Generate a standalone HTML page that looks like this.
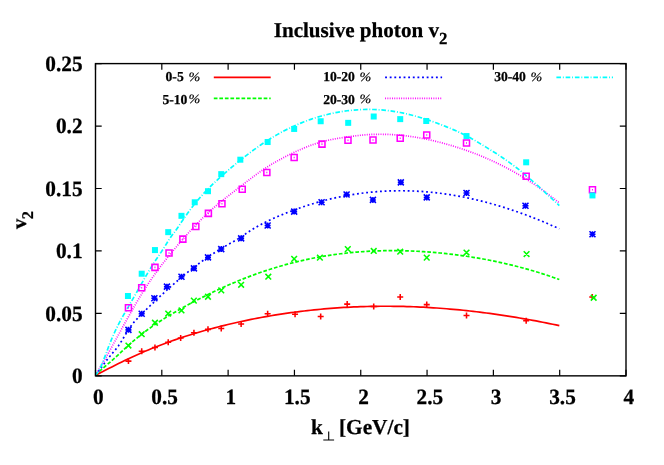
<!DOCTYPE html>
<html><head><meta charset="utf-8"><title>Inclusive photon v2</title>
<style>html,body{margin:0;padding:0;background:#fff;}body{width:664px;height:465px;position:relative;overflow:hidden;font-family:"Liberation Serif",serif;}</style></head>
<body>
<svg width="664" height="465" viewBox="0 0 664 465" style="position:absolute;left:0;top:0;will-change:transform">
<rect width="664" height="465" fill="#fff"/>
<clipPath id="pc"><rect x="95.5" y="63.6" width="530.50" height="312.25"/></clipPath><g clip-path="url(#pc)">
<path d="M95.3 375.3 L98.61 373.63 L101.93 371.94 L105.24 370.26 L108.56 368.57 L111.87 366.89 L115.19 365.22 L118.5 363.57 L121.81 361.93 L125.13 360.32 L128.44 358.74 L131.76 357.19 L135.07 355.68 L138.39 354.2 L141.7 352.75 L145.02 351.33 L148.33 349.94 L151.64 348.58 L154.96 347.25 L158.27 345.95 L161.59 344.68 L164.9 343.43 L168.22 342.22 L171.53 341.03 L174.85 339.87 L178.16 338.74 L181.47 337.63 L184.79 336.54 L188.1 335.48 L191.42 334.45 L194.73 333.44 L198.05 332.45 L201.36 331.49 L204.67 330.54 L207.99 329.62 L211.3 328.72 L214.62 327.85 L217.93 326.99 L221.25 326.15 L224.56 325.33 L227.88 324.53 L231.19 323.75 L234.5 322.98 L237.82 322.24 L241.13 321.51 L244.45 320.8 L247.76 320.11 L251.08 319.43 L254.39 318.77 L257.7 318.13 L261.02 317.51 L264.33 316.91 L267.65 316.32 L270.96 315.75 L274.28 315.2 L277.59 314.66 L280.91 314.14 L284.22 313.64 L287.53 313.16 L290.85 312.69 L294.16 312.24 L297.48 311.81 L300.79 311.39 L304.11 310.99 L307.42 310.61 L310.73 310.24 L314.05 309.89 L317.36 309.55 L320.68 309.24 L323.99 308.94 L327.31 308.65 L330.62 308.38 L333.94 308.13 L337.25 307.89 L340.56 307.67 L343.88 307.47 L347.19 307.28 L350.51 307.11 L353.82 306.95 L357.14 306.81 L360.45 306.69 L363.76 306.58 L367.08 306.48 L370.39 306.41 L373.71 306.34 L377.02 306.3 L380.34 306.26 L383.65 306.25 L386.97 306.25 L390.28 306.26 L393.59 306.29 L396.91 306.33 L400.22 306.39 L403.54 306.46 L406.85 306.55 L410.17 306.66 L413.48 306.77 L416.79 306.91 L420.11 307.05 L423.42 307.22 L426.74 307.39 L430.05 307.58 L433.37 307.79 L436.68 308.01 L440 308.24 L443.31 308.49 L446.62 308.75 L449.94 309.03 L453.25 309.32 L456.57 309.62 L459.88 309.94 L463.2 310.27 L466.51 310.62 L469.82 310.98 L473.14 311.35 L476.45 311.74 L479.77 312.14 L483.08 312.55 L486.4 312.98 L489.71 313.42 L493.03 313.88 L496.34 314.34 L499.65 314.82 L502.97 315.32 L506.28 315.82 L509.6 316.34 L512.91 316.88 L516.23 317.42 L519.54 317.98 L522.85 318.55 L526.17 319.14 L529.48 319.73 L532.8 320.34 L536.11 320.96 L539.43 321.6 L542.74 322.24 L546.06 322.9 L549.37 323.57 L552.68 324.26 L556 324.95 L559.31 325.66" fill="none" stroke="#ff0000" stroke-width="1.7"/>
<path d="M95.3 375.3 L98.61 372.11 L101.93 369.11 L105.24 366.24 L108.56 363.42 L111.87 360.58 L115.19 357.64 L118.5 354.6 L121.81 351.48 L125.13 348.37 L128.44 345.32 L131.76 342.38 L135.07 339.55 L138.39 336.83 L141.7 334.2 L145.02 331.67 L148.33 329.23 L151.64 326.87 L154.96 324.58 L158.27 322.37 L161.59 320.23 L164.9 318.14 L168.22 316.11 L171.53 314.13 L174.85 312.19 L178.16 310.29 L181.47 308.43 L184.79 306.59 L188.1 304.78 L191.42 303 L194.73 301.24 L198.05 299.52 L201.36 297.82 L204.67 296.15 L207.99 294.51 L211.3 292.9 L214.62 291.32 L217.93 289.77 L221.25 288.24 L224.56 286.75 L227.88 285.29 L231.19 283.85 L234.5 282.45 L237.82 281.07 L241.13 279.73 L244.45 278.41 L247.76 277.13 L251.08 275.88 L254.39 274.65 L257.7 273.46 L261.02 272.3 L264.33 271.17 L267.65 270.07 L270.96 269 L274.28 267.97 L277.59 266.96 L280.91 265.99 L284.22 265.04 L287.53 264.13 L290.85 263.26 L294.16 262.41 L297.48 261.59 L300.79 260.81 L304.11 260.06 L307.42 259.34 L310.73 258.65 L314.05 257.99 L317.36 257.36 L320.68 256.76 L323.99 256.19 L327.31 255.65 L330.62 255.13 L333.94 254.65 L337.25 254.2 L340.56 253.77 L343.88 253.37 L347.19 253 L350.51 252.66 L353.82 252.35 L357.14 252.06 L360.45 251.8 L363.76 251.57 L367.08 251.36 L370.39 251.18 L373.71 251.03 L377.02 250.9 L380.34 250.79 L383.65 250.72 L386.97 250.66 L390.28 250.64 L393.59 250.63 L396.91 250.65 L400.22 250.7 L403.54 250.77 L406.85 250.86 L410.17 250.97 L413.48 251.11 L416.79 251.27 L420.11 251.46 L423.42 251.66 L426.74 251.89 L430.05 252.14 L433.37 252.41 L436.68 252.71 L440 253.02 L443.31 253.35 L446.62 253.71 L449.94 254.09 L453.25 254.48 L456.57 254.9 L459.88 255.34 L463.2 255.79 L466.51 256.27 L469.82 256.77 L473.14 257.3 L476.45 257.84 L479.77 258.41 L483.08 259 L486.4 259.61 L489.71 260.25 L493.03 260.91 L496.34 261.6 L499.65 262.3 L502.97 263.04 L506.28 263.8 L509.6 264.58 L512.91 265.39 L516.23 266.22 L519.54 267.08 L522.85 267.97 L526.17 268.88 L529.48 269.82 L532.8 270.79 L536.11 271.78 L539.43 272.81 L542.74 273.86 L546.06 274.94 L549.37 276.04 L552.68 277.18 L556 278.35 L559.31 279.54" fill="none" stroke="#00ff00" stroke-width="1.7" stroke-dasharray="3.69 1.85"/>
<path d="M95.3 375.3 L98.61 371.08 L101.93 366.63 L105.24 362.17 L108.56 357.89 L111.87 353.92 L115.19 349.97 L118.5 345.68 L121.81 340.71 L125.13 335.13 L128.44 329.65 L131.76 324.95 L135.07 320.95 L138.39 317.4 L141.7 314.06 L145.02 310.78 L148.33 307.53 L151.64 304.31 L154.96 301.14 L158.27 298 L161.59 294.91 L164.9 291.86 L168.22 288.85 L171.53 285.89 L174.85 282.99 L178.16 280.13 L181.47 277.33 L184.79 274.58 L188.1 271.89 L191.42 269.26 L194.73 266.7 L198.05 264.19 L201.36 261.75 L204.67 259.38 L207.99 257.07 L211.3 254.84 L214.62 252.68 L217.93 250.59 L221.25 248.58 L224.56 246.64 L227.88 244.73 L231.19 242.83 L234.5 240.9 L237.82 238.91 L241.13 236.82 L244.45 234.63 L247.76 232.41 L251.08 230.27 L254.39 228.24 L257.7 226.32 L261.02 224.5 L264.33 222.76 L267.65 221.11 L270.96 219.53 L274.28 218.02 L277.59 216.57 L280.91 215.16 L284.22 213.8 L287.53 212.48 L290.85 211.2 L294.16 209.96 L297.48 208.76 L300.79 207.6 L304.11 206.48 L307.42 205.39 L310.73 204.35 L314.05 203.35 L317.36 202.39 L320.68 201.47 L323.99 200.58 L327.31 199.74 L330.62 198.93 L333.94 198.16 L337.25 197.44 L340.56 196.75 L343.88 196.09 L347.19 195.48 L350.51 194.9 L353.82 194.37 L357.14 193.87 L360.45 193.4 L363.76 192.98 L367.08 192.59 L370.39 192.24 L373.71 191.93 L377.02 191.65 L380.34 191.41 L383.65 191.21 L386.97 191.05 L390.28 190.92 L393.59 190.82 L396.91 190.77 L400.22 190.74 L403.54 190.76 L406.85 190.81 L410.17 190.9 L413.48 191.02 L416.79 191.18 L420.11 191.37 L423.42 191.6 L426.74 191.86 L430.05 192.16 L433.37 192.49 L436.68 192.85 L440 193.25 L443.31 193.69 L446.62 194.16 L449.94 194.66 L453.25 195.19 L456.57 195.76 L459.88 196.36 L463.2 197 L466.51 197.67 L469.82 198.37 L473.14 199.1 L476.45 199.86 L479.77 200.66 L483.08 201.49 L486.4 202.34 L489.71 203.24 L493.03 204.16 L496.34 205.11 L499.65 206.09 L502.97 207.11 L506.28 208.15 L509.6 209.22 L512.91 210.33 L516.23 211.46 L519.54 212.63 L522.85 213.82 L526.17 215.04 L529.48 216.29 L532.8 217.57 L536.11 218.88 L539.43 220.21 L542.74 221.58 L546.06 222.97 L549.37 224.39 L552.68 225.84 L556 227.32 L559.31 228.82" fill="none" stroke="#0000ff" stroke-width="1.7" stroke-dasharray="1.85 2.77"/>
<path d="M95.3 375.3 L98.61 369.88 L101.93 364.3 L105.24 358.56 L108.56 352.71 L111.87 346.77 L115.19 340.77 L118.5 334.74 L121.81 328.7 L125.13 322.69 L128.44 316.72 L131.76 310.84 L135.07 305.06 L138.39 299.41 L141.7 293.93 L145.02 288.64 L148.33 283.56 L151.64 278.68 L154.96 273.99 L158.27 269.46 L161.59 265.08 L164.9 260.82 L168.22 256.66 L171.53 252.59 L174.85 248.58 L178.16 244.65 L181.47 240.78 L184.79 236.99 L188.1 233.27 L191.42 229.64 L194.73 226.09 L198.05 222.64 L201.36 219.29 L204.67 216.05 L207.99 212.92 L211.3 209.91 L214.62 207.01 L217.93 204.2 L221.25 201.47 L224.56 198.81 L227.88 196.2 L231.19 193.63 L234.5 191.08 L237.82 188.54 L241.13 186.01 L244.45 183.45 L247.76 180.9 L251.08 178.36 L254.39 175.88 L257.7 173.46 L261.02 171.14 L264.33 168.91 L267.65 166.77 L270.96 164.72 L274.28 162.75 L277.59 160.86 L280.91 159.04 L284.22 157.29 L287.53 155.6 L290.85 153.96 L294.16 152.38 L297.48 150.85 L300.79 149.38 L304.11 147.97 L307.42 146.62 L310.73 145.36 L314.05 144.18 L317.36 143.09 L320.68 142.09 L323.99 141.21 L327.31 140.41 L330.62 139.71 L333.94 139.07 L337.25 138.49 L340.56 137.95 L343.88 137.44 L347.19 136.95 L350.51 136.49 L353.82 136.04 L357.14 135.64 L360.45 135.27 L363.76 134.96 L367.08 134.7 L370.39 134.51 L373.71 134.37 L377.02 134.29 L380.34 134.26 L383.65 134.29 L386.97 134.37 L390.28 134.51 L393.59 134.7 L396.91 134.94 L400.22 135.23 L403.54 135.57 L406.85 135.96 L410.17 136.4 L413.48 136.88 L416.79 137.42 L420.11 138 L423.42 138.62 L426.74 139.29 L430.05 140 L433.37 140.75 L436.68 141.54 L440 142.38 L443.31 143.25 L446.62 144.16 L449.94 145.11 L453.25 146.1 L456.57 147.13 L459.88 148.2 L463.2 149.3 L466.51 150.45 L469.82 151.64 L473.14 152.87 L476.45 154.15 L479.77 155.47 L483.08 156.84 L486.4 158.25 L489.71 159.71 L493.03 161.22 L496.34 162.78 L499.65 164.39 L502.97 166.05 L506.28 167.76 L509.6 169.52 L512.91 171.33 L516.23 173.2 L519.54 175.13 L522.85 177.11 L526.17 179.15 L529.48 181.24 L532.8 183.4 L536.11 185.61 L539.43 187.88 L542.74 190.22 L546.06 192.61 L549.37 195.07 L552.68 197.59 L556 200.18 L559.31 202.83" fill="none" stroke="#ff00ff" stroke-width="1.7" stroke-dasharray="0.92 1.38"/>
<path d="M95.3 375.3 L98.61 371.22 L101.93 364.18 L105.24 355.63 L108.56 346.82 L111.87 338.49 L115.19 331.02 L118.5 324.29 L121.81 318.1 L125.13 312.27 L128.44 306.6 L131.76 300.89 L135.07 295.08 L138.39 289.21 L141.7 283.35 L145.02 277.57 L148.33 271.93 L151.64 266.49 L154.96 261.32 L158.27 256.39 L161.59 251.48 L164.9 246.34 L168.22 240.89 L171.53 235.99 L174.85 231.67 L178.16 226.97 L181.47 222.07 L184.79 217.19 L188.1 212.49 L191.42 208.05 L194.73 203.84 L198.05 199.85 L201.36 196.06 L204.67 192.44 L207.99 188.99 L211.3 185.67 L214.62 182.47 L217.93 179.37 L221.25 176.36 L224.56 173.4 L227.88 170.51 L231.19 167.68 L234.5 164.9 L237.82 162.18 L241.13 159.52 L244.45 156.92 L247.76 154.37 L251.08 151.88 L254.39 149.44 L257.7 147.07 L261.02 144.76 L264.33 142.53 L267.65 140.37 L270.96 138.3 L274.28 136.3 L277.59 134.38 L280.91 132.55 L284.22 130.78 L287.53 129.1 L290.85 127.49 L294.16 125.95 L297.48 124.49 L300.79 123.1 L304.11 121.78 L307.42 120.53 L310.73 119.35 L314.05 118.24 L317.36 117.2 L320.68 116.22 L323.99 115.31 L327.31 114.47 L330.62 113.69 L333.94 112.97 L337.25 112.32 L340.56 111.74 L343.88 111.22 L347.19 110.77 L350.51 110.38 L353.82 110.06 L357.14 109.81 L360.45 109.62 L363.76 109.49 L367.08 109.44 L370.39 109.45 L373.71 109.52 L377.02 109.66 L380.34 109.87 L383.65 110.14 L386.97 110.48 L390.28 110.89 L393.59 111.36 L396.91 111.9 L400.22 112.51 L403.54 113.18 L406.85 113.92 L410.17 114.71 L413.48 115.57 L416.79 116.48 L420.11 117.45 L423.42 118.47 L426.74 119.54 L430.05 120.66 L433.37 121.83 L436.68 123.04 L440 124.28 L443.31 125.57 L446.62 126.89 L449.94 128.25 L453.25 129.65 L456.57 131.09 L459.88 132.6 L463.2 134.18 L466.51 135.84 L469.82 137.6 L473.14 139.47 L476.45 141.4 L479.77 143.38 L483.08 145.37 L486.4 147.39 L489.71 149.42 L493.03 151.48 L496.34 153.59 L499.65 155.74 L502.97 157.95 L506.28 160.22 L509.6 162.57 L512.91 164.99 L516.23 167.5 L519.54 170.1 L522.85 172.79 L526.17 175.56 L529.48 178.4 L532.8 181.3 L536.11 184.25 L539.43 187.24 L542.74 190.27 L546.06 193.31 L549.37 196.38 L552.68 199.44 L556 202.51 L559.31 205.56" fill="none" stroke="#00ffff" stroke-width="1.7" stroke-dasharray="4.62 1.85 0.92 1.85"/>
</g>
<path d="M125.44 361.11h6.0M128.44 358.11v6.0M138.7 351.15h6.0M141.7 348.15v6.0M151.96 347.42h6.0M154.96 344.42v6.0M165.22 342.19h6.0M168.22 339.19v6.0M177.67 337.96h6.0M180.67 334.96v6.0M190.93 332.73h6.0M193.93 329.73v6.0M204.99 329.37h6.0M207.99 326.37v6.0M218.25 328.5h6.0M221.25 325.5v6.0M238.13 324.01h6.0M241.13 321.01v6.0M264.65 313.81h6.0M267.65 310.81v6.0M292.06 314.3h6.0M295.06 311.3v6.0M317.68 316.42h6.0M320.68 313.42v6.0M344.19 304.1h6.0M347.19 301.1v6.0M370.71 306.59h6.0M373.71 303.59v6.0M397.22 297h6.0M400.22 294v6.0M423.74 304.6h6.0M426.74 301.6v6.0M463.51 315.55h6.0M466.51 312.55v6.0M523.17 320.65h6.0M526.17 317.65v6.0M589.26 297h6.0M592.26 294v6.0" fill="none" stroke="#ff0000" stroke-width="1.55"/>
<path d="M125.59 342.7l5.7 5.7M125.59 348.4l5.7 -5.7M138.85 331.37l5.7 5.7M138.85 337.07l5.7 -5.7M152.11 319.92l5.7 5.7M152.11 325.62l5.7 -5.7M165.37 310.71l5.7 5.7M165.37 316.41l5.7 -5.7M178.62 307.6l5.7 5.7M178.62 313.3l5.7 -5.7M190.98 297.76l5.7 5.7M190.98 303.46l5.7 -5.7M205.14 293.9l5.7 5.7M205.14 299.6l5.7 -5.7M218.4 287.55l5.7 5.7M218.4 293.25l5.7 -5.7M238.28 281.95l5.7 5.7M238.28 287.65l5.7 -5.7M265.45 273.86l5.7 5.7M265.45 279.56l5.7 -5.7M291.31 256.06l5.7 5.7M291.31 261.76l5.7 -5.7M317.03 254.82l5.7 5.7M317.03 260.52l5.7 -5.7M344.94 246.23l5.7 5.7M344.94 251.93l5.7 -5.7M370.86 248.09l5.7 5.7M370.86 253.79l5.7 -5.7M397.37 248.84l5.7 5.7M397.37 254.54l5.7 -5.7M423.89 254.82l5.7 5.7M423.89 260.52l5.7 -5.7M463.66 249.71l5.7 5.7M463.66 255.41l5.7 -5.7M523.72 251.21l5.7 5.7M523.72 256.91l5.7 -5.7M590.81 294.9l5.7 5.7M590.81 300.6l5.7 -5.7" fill="none" stroke="#00ff00" stroke-width="1.55"/>
<path d="M125.44 329.86h6.0M128.44 326.86v6.0M125.44 326.86l6.0 6.0M125.44 332.86l6.0 -6.0M138.7 313.81h6.0M141.7 310.81v6.0M138.7 310.81l6.0 6.0M138.7 316.81l6.0 -6.0M151.36 298.25h6.0M154.36 295.25v6.0M151.36 295.25l6.0 6.0M151.36 301.25l6.0 -6.0M163.92 286.67h6.0M166.92 283.67v6.0M163.92 283.67l6.0 6.0M163.92 289.67l6.0 -6.0M178.47 276.71h6.0M181.47 273.71v6.0M178.47 273.71l6.0 6.0M178.47 279.71l6.0 -6.0M190.93 268.37h6.0M193.93 265.37v6.0M190.93 265.37l6.0 6.0M190.93 271.37l6.0 -6.0M204.99 257.42h6.0M207.99 254.42v6.0M204.99 254.42l6.0 6.0M204.99 260.42l6.0 -6.0M218.25 249.08h6.0M221.25 246.08v6.0M218.25 246.08l6.0 6.0M218.25 252.08l6.0 -6.0M238.13 238.37h6.0M241.13 235.37v6.0M238.13 235.37l6.0 6.0M238.13 241.37l6.0 -6.0M264.65 225.55h6.0M267.65 222.55v6.0M264.65 222.55l6.0 6.0M264.65 228.55l6.0 -6.0M291.16 211.61h6.0M294.16 208.61v6.0M291.16 208.61l6.0 6.0M291.16 214.61l6.0 -6.0M318.58 202.27h6.0M321.58 199.27v6.0M318.58 199.27l6.0 6.0M318.58 205.27l6.0 -6.0M343.59 194.56h6.0M346.59 191.56v6.0M343.59 191.56l6.0 6.0M343.59 197.56l6.0 -6.0M369.91 199.91h6.0M372.91 196.91v6.0M369.91 196.91l6.0 6.0M369.91 202.91l6.0 -6.0M397.82 182.36h6.0M400.82 179.36v6.0M397.82 179.36l6.0 6.0M397.82 185.36l6.0 -6.0M423.74 197.42h6.0M426.74 194.42v6.0M423.74 194.42l6.0 6.0M423.74 200.42l6.0 -6.0M463.51 192.94h6.0M466.51 189.94v6.0M463.51 189.94l6.0 6.0M463.51 195.94l6.0 -6.0M522.47 205.76h6.0M525.47 202.76v6.0M522.47 202.76l6.0 6.0M522.47 208.76l6.0 -6.0M589.46 234.26h6.0M592.46 231.26v6.0M589.46 231.26l6.0 6.0M589.46 237.26l6.0 -6.0" fill="none" stroke="#0000ff" stroke-width="1.55"/>
<path d="M125.44 304.71h6.0v6.0h-6.0zM127.94 307.71h1M138.7 284.67h6.0v6.0h-6.0zM141.2 287.67h1M151.96 264.38h6.0v6.0h-6.0zM154.46 267.38h1M166.02 250.06h6.0v6.0h-6.0zM168.52 253.06h1M179.87 236.12h6.0v6.0h-6.0zM182.37 239.12h1M192.83 223.42h6.0v6.0h-6.0zM195.33 226.42h1M205.39 210.35h6.0v6.0h-6.0zM207.89 213.35h1M218.95 200.77h6.0v6.0h-6.0zM221.45 203.77h1M239.23 186.33h6.0v6.0h-6.0zM241.73 189.33h1M263.85 169.52h6.0v6.0h-6.0zM266.35 172.52h1M291.16 154.46h6.0v6.0h-6.0zM293.66 157.46h1M318.98 141.14h6.0v6.0h-6.0zM321.48 144.14h1M344.99 137.16h6.0v6.0h-6.0zM347.49 140.16h1M370.01 137.03h6.0v6.0h-6.0zM372.51 140.03h1M397.22 135.17h6.0v6.0h-6.0zM399.72 138.17h1M423.74 132.05h6.0v6.0h-6.0zM426.24 135.05h1M463.51 140.02h6.0v6.0h-6.0zM466.01 143.02h1M523.17 173.26h6.0v6.0h-6.0zM525.67 176.26h1M589.46 186.82h6.0v6.0h-6.0zM591.96 189.82h1" fill="none" stroke="#ff00ff" stroke-width="1.55"/>
<g fill="#00ffff"><rect x="124.94" y="293.01" width="6.0" height="6.0"/><rect x="138.7" y="270.72" width="6.0" height="6.0"/><rect x="151.96" y="247.07" width="6.0" height="6.0"/><rect x="165.22" y="229.15" width="6.0" height="6.0"/><rect x="178.47" y="212.84" width="6.0" height="6.0"/><rect x="191.73" y="199.27" width="6.0" height="6.0"/><rect x="204.99" y="188.19" width="6.0" height="6.0"/><rect x="218.25" y="171.14" width="6.0" height="6.0"/><rect x="237.33" y="156.7" width="6.0" height="6.0"/><rect x="264.65" y="139.02" width="6.0" height="6.0"/><rect x="291.16" y="125.95" width="6.0" height="6.0"/><rect x="317.68" y="118.24" width="6.0" height="6.0"/><rect x="345.19" y="119.85" width="6.0" height="6.0"/><rect x="370.71" y="113.51" width="6.0" height="6.0"/><rect x="397.22" y="116.12" width="6.0" height="6.0"/><rect x="423.24" y="117.99" width="6.0" height="6.0"/><rect x="463.51" y="133.05" width="6.0" height="6.0"/><rect x="523.17" y="159.31" width="6.0" height="6.0"/><rect x="589.46" y="192.43" width="6.0" height="6.0"/></g>
<rect x="95.5" y="63.6" width="530.50" height="312.25" fill="none" stroke="#000" stroke-width="1.4"/>
<path d="M95.5 375.85v-6.2M95.5 63.6v6.2M161.81 375.85v-6.2M161.81 63.6v6.2M228.12 375.85v-6.2M228.12 63.6v6.2M294.44 375.85v-6.2M294.44 63.6v6.2M360.75 375.85v-6.2M360.75 63.6v6.2M427.06 375.85v-6.2M427.06 63.6v6.2M493.38 375.85v-6.2M493.38 63.6v6.2M559.69 375.85v-6.2M559.69 63.6v6.2M626 375.85v-6.2M626 63.6v6.2M95.5 375.85h6.2M626 375.85h-6.2M95.5 313.4h6.2M626 313.4h-6.2M95.5 250.95h6.2M626 250.95h-6.2M95.5 188.5h6.2M626 188.5h-6.2M95.5 126.05h6.2M626 126.05h-6.2M95.5 63.6h6.2M626 63.6h-6.2" stroke="#000" stroke-width="1.2" fill="none"/>
<path d="M213.8 77.4H270.7" fill="none" stroke="#ff0000" stroke-width="1.7"/>
<path d="M213.8 98.4H270.7" fill="none" stroke="#00ff00" stroke-width="1.7" stroke-dasharray="3.69 1.85"/>
<path d="M385.1 77.4H442.1" fill="none" stroke="#0000ff" stroke-width="1.7" stroke-dasharray="1.85 2.77"/>
<path d="M385.1 98.4H442.1" fill="none" stroke="#ff00ff" stroke-width="1.7" stroke-dasharray="0.92 1.38"/>
<path d="M556.4 77.4H613.0" fill="none" stroke="#00ffff" stroke-width="1.7" stroke-dasharray="4.62 1.85 0.92 1.85"/>
<g font-family="'Liberation Serif', serif" font-weight="bold" fill="#000" stroke="#000" stroke-width="0.25" style="text-rendering:geometricPrecision">
<text transform="translate(273.7,36.5) scale(1,1)" text-anchor="start" font-size="21.1" >Inclusive photon v<tspan font-size="16.88" dy="7.38">2</tspan></text>
<text transform="translate(82.6,383) scale(1,1.025)" text-anchor="end" font-size="21.3" >0</text>
<text transform="translate(82.6,320.55) scale(1,1.025)" text-anchor="end" font-size="21.3" >0.05</text>
<text transform="translate(82.6,258.1) scale(1,1.025)" text-anchor="end" font-size="21.3" >0.1</text>
<text transform="translate(82.6,195.65) scale(1,1.025)" text-anchor="end" font-size="21.3" >0.15</text>
<text transform="translate(82.6,133.2) scale(1,1.025)" text-anchor="end" font-size="21.3" >0.2</text>
<text transform="translate(82.6,70.75) scale(1,1.025)" text-anchor="end" font-size="21.3" >0.25</text>
<text transform="translate(98.3,404.3) scale(1,1.025)" text-anchor="middle" font-size="21.3" >0</text>
<text transform="translate(164.61,404.3) scale(1,1.025)" text-anchor="middle" font-size="21.3" >0.5</text>
<text transform="translate(230.93,404.3) scale(1,1.025)" text-anchor="middle" font-size="21.3" >1</text>
<text transform="translate(297.24,404.3) scale(1,1.025)" text-anchor="middle" font-size="21.3" >1.5</text>
<text transform="translate(363.55,404.3) scale(1,1.025)" text-anchor="middle" font-size="21.3" >2</text>
<text transform="translate(429.86,404.3) scale(1,1.025)" text-anchor="middle" font-size="21.3" >2.5</text>
<text transform="translate(496.18,404.3) scale(1,1.025)" text-anchor="middle" font-size="21.3" >3</text>
<text transform="translate(562.49,404.3) scale(1,1.025)" text-anchor="middle" font-size="21.3" >3.5</text>
<text transform="translate(628.8,404.3) scale(1,1.025)" text-anchor="middle" font-size="21.3" >4</text>
<text transform="translate(311.0,434.2) scale(1,1)" text-anchor="start" font-size="21.3" >k</text>
<text transform="translate(339.0,434.2) scale(1,1)" text-anchor="start" font-size="21.3" >[GeV/c]</text>
<text transform="translate(25.6,228.9) rotate(-90)" font-size="20.6">v<tspan font-size="16.3" dx="-0.6" dy="7.2">2</tspan></text>
<text transform="translate(183.7,81.35) scale(1,1.0)" text-anchor="end" font-size="13.6" >0-5</text>
<text transform="translate(200.3,81.05) scale(1.04,0.94)" text-anchor="end" font-size="13.6"><tspan font-style="italic" font-weight="normal" stroke-width="0.2">%</tspan></text>
<text transform="translate(187.3,103.5) scale(1,1.0)" text-anchor="end" font-size="13.6" >5-10</text>
<text transform="translate(200.3,103.2) scale(1.04,0.94)" text-anchor="end" font-size="13.6"><tspan font-style="italic" font-weight="normal" stroke-width="0.2">%</tspan></text>
<text transform="translate(354.9,81.35) scale(1,1.0)" text-anchor="end" font-size="13.6" >10-20</text>
<text transform="translate(371.4,81.05) scale(1.04,0.94)" text-anchor="end" font-size="13.6"><tspan font-style="italic" font-weight="normal" stroke-width="0.2">%</tspan></text>
<text transform="translate(354.9,103.5) scale(1,1.0)" text-anchor="end" font-size="13.6" >20-30</text>
<text transform="translate(371.4,103.2) scale(1.04,0.94)" text-anchor="end" font-size="13.6"><tspan font-style="italic" font-weight="normal" stroke-width="0.2">%</tspan></text>
<text transform="translate(525.9,81.35) scale(1,1.0)" text-anchor="end" font-size="13.6" >30-40</text>
<text transform="translate(542.4,81.05) scale(1.04,0.94)" text-anchor="end" font-size="13.6"><tspan font-style="italic" font-weight="normal" stroke-width="0.2">%</tspan></text>
</g>
<path d="M323.3 440H334.1M328.7 431.5V440" stroke="#000" stroke-width="1.1" fill="none"/>
</svg>
</body></html>
